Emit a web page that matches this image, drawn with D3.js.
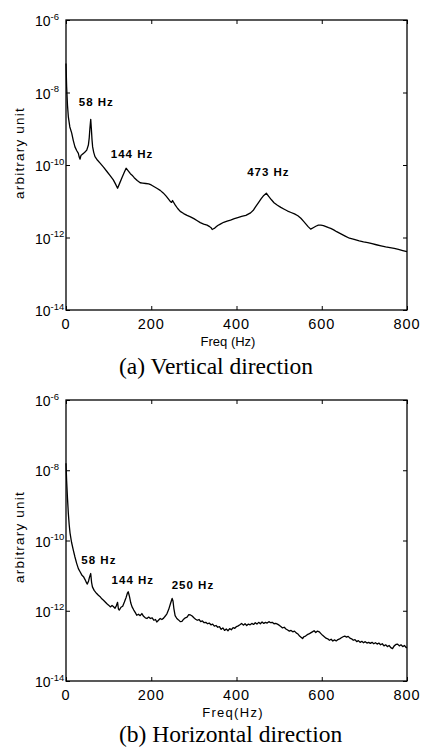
<!DOCTYPE html>
<html>
<head>
<meta charset="utf-8">
<script src="https://cdn.jsdelivr.net/npm/d3@7"></script>
<style>
  body { margin: 0; background: #fff; }
  svg { display: block; }
  text { fill: #000; }
</style>
</head>
<body>
<svg id="chart" width="422" height="751"></svg>
<script>
"use strict";

// tick values
const freqTicks = [0, 200, 400, 600, 800];
const decadeExps = [-6, -8, -10, -12, -14];

// spectra: [frequency Hz, log10(amplitude)]
const vertical = [
  [0, -7.2], [1.5, -7.84], [3.5, -8.35], [5.5, -8.67], [9, -8.95], [13.4, -9.12], [17, -9.32],
  [21, -9.5], [25, -9.6], [29, -9.68], [31, -9.78], [33, -9.84], [35, -9.74], [37, -9.72],
  [40.7, -9.68], [44, -9.65], [48.7, -9.59], [52.5, -9.45], [54.5, -9.25], [56, -9.0], [58, -8.74],
  [59.5, -9.0], [61, -9.3], [62.5, -9.5], [65, -9.65], [68, -9.77], [74, -9.87], [80, -9.95],
  [88, -10.06], [96, -10.18], [104, -10.3], [111, -10.41], [116, -10.52], [121, -10.64],
  [126, -10.5], [131, -10.36], [136, -10.22], [141, -10.09], [146, -10.16], [151, -10.24],
  [155, -10.28], [160, -10.35], [167, -10.43], [174, -10.49], [180, -10.5], [187, -10.51],
  [194, -10.52], [200, -10.55], [207, -10.6], [214, -10.65], [221, -10.7], [228, -10.77],
  [235, -10.86], [241, -10.95], [245, -11.01], [248, -11.03], [250, -10.98], [252, -11.02],
  [256, -11.1], [262, -11.2], [268, -11.28], [276, -11.34], [284, -11.39], [292, -11.43],
  [300, -11.48], [308, -11.54], [315, -11.59], [323, -11.63], [331, -11.66], [337, -11.7],
  [341, -11.74], [343, -11.78], [346, -11.76], [349, -11.74], [351, -11.72], [356, -11.67],
  [362, -11.63], [370, -11.58], [378, -11.55], [386, -11.52], [395, -11.48], [403, -11.45],
  [412, -11.42], [422, -11.39], [433, -11.32], [440, -11.24], [445, -11.15], [452, -11.03],
  [458, -10.93], [464, -10.84], [470, -10.78], [476, -10.87], [482, -10.96], [488, -11.04],
  [496, -11.11], [504, -11.17], [512, -11.22], [520, -11.27], [528, -11.31], [536, -11.35],
  [544, -11.4], [551, -11.47], [557, -11.55], [563, -11.63], [568, -11.7], [574, -11.77],
  [580, -11.73], [586, -11.69], [592, -11.66], [598, -11.66], [604, -11.67], [610, -11.7],
  [616, -11.73], [621, -11.75], [628, -11.79], [635, -11.84], [645, -11.9], [655, -11.96],
  [665, -12.02], [676, -12.05], [688, -12.09], [698, -12.12], [708, -12.14], [718, -12.17],
  [728, -12.2], [739, -12.23], [750, -12.26], [760, -12.28], [770, -12.3], [780, -12.33],
  [790, -12.36], [800, -12.39]
];

const horizontal = [
  [0, -7.8], [1.5, -8.3], [3.5, -8.8], [5.5, -9.23], [7.5, -9.55], [9.5, -9.79], [13, -10.05],
  [17, -10.27], [21, -10.47], [25, -10.65], [29, -10.8], [33, -10.89], [37, -10.98], [41, -11.03],
  [45, -11.12], [48, -11.2], [50, -11.24], [53, -11.15], [55, -11.05], [58, -10.94], [60, -11.19],
  [62, -11.32], [66, -11.42], [72, -11.51], [76, -11.56], [80, -11.6], [84, -11.66], [88, -11.7],
  [92, -11.75], [96, -11.8], [100, -11.84], [104, -11.89], [108, -11.85], [111, -11.88],
  [115, -11.93], [118, -11.86], [121, -11.76], [123, -11.95], [125, -11.98], [129, -11.9],
  [133, -11.87], [137, -11.75], [141, -11.62], [144, -11.5], [146, -11.46], [149, -11.6],
  [152, -11.78], [155, -11.89], [159, -11.98], [163, -12.06], [166, -12.13], [170, -12.1],
  [174, -12.14], [178, -12.08], [182, -12.16], [186, -12.2], [190, -12.22], [194, -12.18],
  [198, -12.22], [202, -12.2], [206, -12.27], [210, -12.25], [213, -12.32], [217, -12.27],
  [221, -12.22], [225, -12.25], [229, -12.21], [233, -12.15], [237, -12.08], [241, -11.96],
  [245, -11.8], [249, -11.65], [251, -11.72], [253, -11.93], [256, -12.14], [260, -12.22],
  [264, -12.26], [268, -12.31], [272, -12.3], [276, -12.24], [280, -12.2], [284, -12.18],
  [288, -12.11], [292, -12.12], [296, -12.15], [300, -12.2], [304, -12.24], [308, -12.27],
  [312, -12.25], [316, -12.31], [320, -12.29], [324, -12.34], [328, -12.33], [332, -12.37],
  [336, -12.35], [340, -12.4], [344, -12.38], [348, -12.44], [352, -12.42], [356, -12.47],
  [360, -12.45], [364, -12.53], [368, -12.49], [372, -12.56], [376, -12.52], [380, -12.57],
  [384, -12.51], [388, -12.54], [392, -12.48], [396, -12.5], [400, -12.45], [404, -12.43],
  [408, -12.4], [412, -12.36], [416, -12.41], [420, -12.37], [424, -12.42], [428, -12.38],
  [432, -12.4], [436, -12.36], [440, -12.39], [444, -12.34], [448, -12.38], [452, -12.33],
  [456, -12.37], [460, -12.32], [464, -12.36], [468, -12.33], [472, -12.35], [476, -12.31],
  [480, -12.34], [484, -12.33], [488, -12.37], [492, -12.36], [496, -12.38], [500, -12.41],
  [504, -12.45], [508, -12.49], [512, -12.47], [516, -12.52], [520, -12.55], [524, -12.58],
  [528, -12.56], [532, -12.6], [536, -12.58], [540, -12.63], [544, -12.66], [548, -12.72],
  [552, -12.76], [555, -12.79], [558, -12.74], [562, -12.72], [566, -12.68], [570, -12.66],
  [574, -12.63], [578, -12.6], [582, -12.57], [586, -12.62], [590, -12.58], [594, -12.6],
  [598, -12.65], [602, -12.7], [606, -12.74], [610, -12.78], [614, -12.8], [618, -12.84],
  [622, -12.81], [626, -12.86], [630, -12.83], [634, -12.86], [638, -12.82], [642, -12.8],
  [646, -12.77], [650, -12.74], [654, -12.72], [658, -12.75], [662, -12.73], [666, -12.78],
  [670, -12.8], [674, -12.84], [678, -12.82], [682, -12.88], [686, -12.85], [690, -12.9],
  [694, -12.87], [698, -12.91], [702, -12.88], [706, -12.92], [710, -12.9], [714, -12.93],
  [718, -12.9], [722, -12.94], [726, -12.91], [730, -12.95], [734, -12.92], [738, -12.97],
  [742, -12.94], [746, -13.0], [750, -12.97], [754, -13.02], [758, -12.99], [762, -13.05],
  [766, -13.08], [770, -13.0], [774, -12.96], [778, -12.95], [782, -13.0], [786, -12.97],
  [790, -13.02], [794, -12.99], [798, -13.05], [800, -13.04]
];

// peak labels: text, anchor frequency, anchor level (log10)
const verticalNotes = [
  { text: '58 Hz', f: 30, e: -8.36 },
  { text: '144 Hz', f: 105, e: -9.81 },
  { text: '473 Hz', f: 425, e: -10.3 }
];
const horizontalNotes = [
  { text: '58 Hz', f: 36, e: -10.67 },
  { text: '144 Hz', f: 107, e: -11.24 },
  { text: '250 Hz', f: 248, e: -11.37 }
];

const svg = d3.select('#chart');
const sans = '"Liberation Sans", Arial, sans-serif';
const serif = '"Liberation Serif", "Times New Roman", serif';

drawPanel({
  top: 20, bottom: 310, left: 66, right: 407,
  data: vertical, notes: verticalNotes,
  xLabel: 'Freq (Hz)', xLabelX: 228, xLabelSpacing: 0,
  yLabelY: 153,
  caption: '(a) Vertical direction', captionY: 374
});

drawPanel({
  top: 400, bottom: 681, left: 66, right: 407,
  data: horizontal, notes: horizontalNotes,
  xLabel: 'Freq(Hz)', xLabelX: 233, xLabelSpacing: 1.3,
  yLabelY: 537,
  caption: '(b) Horizontal direction', captionY: 742
});

function drawPanel(p) {
  let x = d3.scaleLinear().domain([0, 800]).range([p.left, p.right]);
  let y = d3.scaleLog().domain([1e-14, 1e-6]).range([p.bottom, p.top]);
  let g = svg.append('g');
  let decades = decadeExps.map(e => Math.pow(10, e));

  // inward ticks on all four sides
  let axes = [
    [d3.axisBottom(x).tickValues(freqTicks), 'translate(0,' + p.bottom + ')'],
    [d3.axisTop(x).tickValues(freqTicks), 'translate(0,' + p.top + ')'],
    [d3.axisLeft(y).tickValues(decades), 'translate(' + p.left + ',0)'],
    [d3.axisRight(y).tickValues(decades), 'translate(' + p.right + ',0)']
  ];
  axes.forEach(a => {
    let ax = g.append('g')
      .attr('transform', a[1])
      .call(a[0].tickSize(-4).tickSizeOuter(0).tickFormat(''));
    ax.select('.domain').remove();
    ax.selectAll('line').attr('stroke', '#000');
  });

  // spectrum
  let line = d3.line()
    .x(d => x(d[0]))
    .y(d => y(Math.pow(10, d[1])));

  g.append('path')
    .datum(p.data)
    .attr('fill', 'none')
    .attr('stroke', '#000')
    .attr('stroke-width', 1.3)
    .attr('stroke-linejoin', 'round')
    .attr('d', line);

  // frame
  g.append('rect')
    .attr('x', p.left).attr('y', p.top)
    .attr('width', p.right - p.left).attr('height', p.bottom - p.top)
    .attr('fill', 'none').attr('stroke', '#000').attr('stroke-width', 1.3);

  // x tick labels
  g.selectAll('.xlab').data(freqTicks).enter()
    .append('text')
    .attr('x', d => x(d))
    .attr('y', p.bottom + 19)
    .attr('text-anchor', 'middle')
    .style('font-family', sans)
    .style('font-size', '14.5px')
    .style('letter-spacing', '1px')
    .text(d => d);

  // y tick labels 10^n
  let ylab = g.selectAll('.ylab').data(decadeExps).enter()
    .append('text')
    .attr('x', 35)
    .attr('y', e => y(Math.pow(10, e)) + 6)
    .style('font-family', sans)
    .style('font-size', '14px')
    .text('10');
  ylab.append('tspan')
    .attr('dy', -6.5)
    .style('font-size', '9.5px')
    .text(e => e);

  // axis titles
  g.append('text')
    .attr('x', p.xLabelX)
    .attr('y', p.bottom + 36)
    .attr('text-anchor', 'middle')
    .style('font-family', sans)
    .style('font-size', '13px')
    .style('letter-spacing', p.xLabelSpacing + 'px')
    .text(p.xLabel);

  g.append('text')
    .attr('transform', 'translate(24,' + p.yLabelY + ') rotate(-90)')
    .attr('text-anchor', 'middle')
    .style('font-family', sans)
    .style('font-size', '13.5px')
    .style('letter-spacing', '1.2px')
    .text('arbitrary unit');

  // peak annotations
  g.selectAll('.note').data(p.notes).enter()
    .append('text')
    .attr('x', d => x(d.f))
    .attr('y', d => y(Math.pow(10, d.e)))
    .style('font-family', sans)
    .style('font-size', '11.5px')
    .style('font-weight', 'bold')
    .style('letter-spacing', '1px')
    .text(d => d.text);

  // caption
  g.append('text')
    .attr('x', 119)
    .attr('y', p.captionY)
    .style('font-family', serif)
    .style('font-size', '23.5px')
    .text(p.caption);
}
</script>
</body>
</html>
